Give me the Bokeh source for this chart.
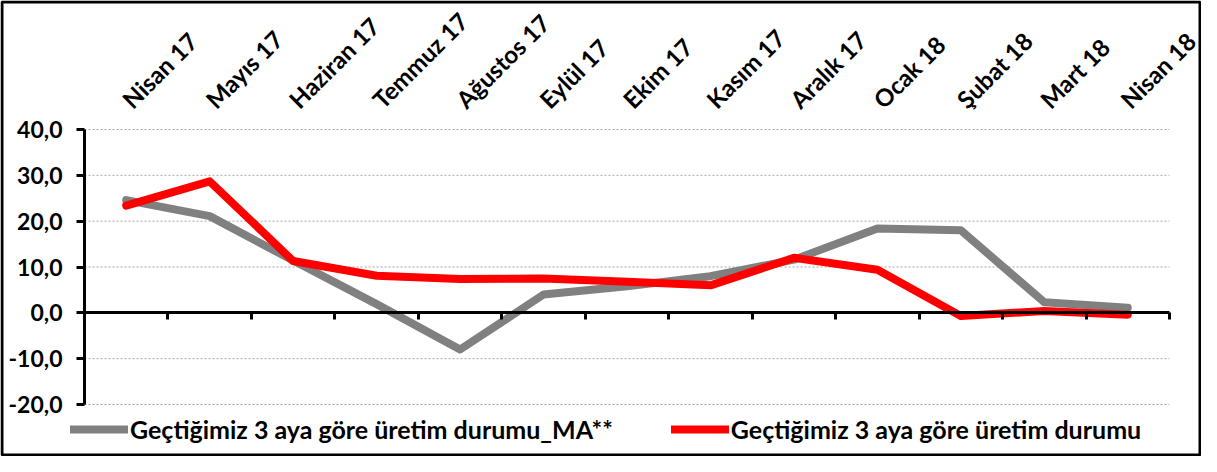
import math
from bokeh.plotting import figure
from bokeh.models import (LinearAxis, FixedTicker, Range1d, Legend, LegendItem,
                          ColumnDataSource, BoxAnnotation)
from bokeh.embed import file_html
from bokeh.resources import INLINE

months = ["Nisan 17", "Mayıs 17", "Haziran 17", "Temmuz 17", "Ağustos 17", "Eylül 17",
          "Ekim 17", "Kasım 17", "Aralık 17", "Ocak 18", "Şubat 18", "Mart 18", "Nisan 18"]
ma_series = [24.6, 21.1, 11.4, 1.9, -8.0, 4.0, 5.8, 8.0, 11.6, 18.4, 18.0, 2.3, 1.1]
cur_series = [23.4, 28.7, 11.3, 8.1, 7.4, 7.5, 6.8, 6.0, 12.0, 9.4, -0.7, 0.4, -0.4]
y_ticks = [-20, -10, 0, 10, 20, 30, 40]
y_tick_labels = ["-20,0", "-10,0", "0,0", "10,0", "20,0", "30,0", "40,0"]
ma_name = "Geçtiğimiz 3 aya göre üretim durumu_MA**"
cur_name = "Geçtiğimiz 3 aya göre üretim durumu"

FONT = "Lato"
W, H = 1201, 456
n = len(months)
xs = [i + 0.5 for i in range(n)]
y_min, y_max = y_ticks[0], y_ticks[-1]

# layout in canvas pixels: plot area edges
PL, PR, PT, PB = 84, 1169, 129, 404
xscale = (PR - PL) / n
yscale = (PB - PT) / (y_max - y_min)
x_range = Range1d(0 - PL / xscale, n + (W - PR) / xscale)
y_range = Range1d(y_min - (H - PB) / yscale, y_max + PT / yscale)

p = figure(width=W, height=H, output_backend="svg", toolbar_location=None,
           x_range=x_range, y_range=y_range, x_axis_type=None, y_axis_type=None,
           min_border=0, min_border_left=0, min_border_right=0,
           min_border_top=0, min_border_bottom=0)
p.outline_line_color = None
p.background_fill_color = "white"
p.border_fill_color = "white"
p.grid.visible = False

# frame around the whole chart
p.add_layout(BoxAnnotation(left=1.5, right=W - 1.5, top=1.5, bottom=H - 1.5,
                           left_units="canvas", right_units="canvas",
                           top_units="canvas", bottom_units="canvas",
                           fill_alpha=0, line_color="black", line_alpha=1.0,
                           line_width=3, level="overlay"))

# dotted gridlines over the plot area
grid_y = [t for t in y_ticks if t != 0]
p.segment(x0=[0] * len(grid_y), x1=[n] * len(grid_y), y0=grid_y, y1=grid_y,
          line_color="#a6a6a6", line_dash="2 2", line_width=1, level="underlay")

src = ColumnDataSource(dict(x=xs, ma=ma_series, cur=cur_series))
r_ma = p.line("x", "ma", source=src, line_color="#808080", line_width=8,
              line_cap="round", line_join="round")
r_cur = p.line("x", "cur", source=src, line_color="#ff0000", line_width=8,
               line_cap="round", line_join="round")

# top category labels axis
top = LinearAxis(fixed_location=y_max, ticker=FixedTicker(ticks=xs),
                 major_label_overrides={x: m for x, m in zip(xs, months)},
                 major_label_orientation=math.pi / 4,
                 axis_line_color=None, major_tick_line_color=None,
                 minor_tick_line_color=None,
                 major_label_text_font=FONT, major_label_text_font_style="bold",
                 major_label_text_font_size="24px", major_label_text_color="black",
                 major_label_standoff=20)
p.add_layout(top, "above")

# axis through zero
zero_axis = LinearAxis(fixed_location=0, bounds=(0, n),
                       ticker=FixedTicker(ticks=list(range(n + 1))),
                       axis_line_width=3, axis_line_color="black",
                       major_tick_line_width=3, major_tick_line_color="black",
                       major_tick_out=7, major_tick_in=0,
                       minor_tick_line_color=None,
                       major_label_text_font_size="0px",
                       major_label_text_alpha=0)
p.add_layout(zero_axis, "below")

# y axis
ya = LinearAxis(fixed_location=0, bounds=(y_min, y_max),
                ticker=FixedTicker(ticks=y_ticks),
                major_label_overrides={t: l for t, l in zip(y_ticks, y_tick_labels)},
                axis_line_width=3, axis_line_color="black",
                major_tick_line_width=3, major_tick_line_color="black",
                major_tick_out=8, major_tick_in=0, minor_tick_line_color=None,
                major_label_text_font=FONT, major_label_text_font_style="bold",
                major_label_text_font_size="23px", major_label_text_color="black",
                major_label_standoff=14)
p.add_layout(ya, "left")

legend = Legend(items=[LegendItem(label=ma_name, renderers=[r_ma]),
                       LegendItem(label=cur_name, renderers=[r_cur])],
                orientation="horizontal", location=(70, 12),
                glyph_width=58, glyph_height=22, label_height=22,
                label_standoff=2, spacing=58, padding=0, margin=0,
                border_line_color=None, background_fill_alpha=0,
                label_text_font=FONT, label_text_font_style="bold",
                label_text_font_size="25px", label_text_color="black")
p.add_layout(legend, "center")

open("out.html", "w").write(file_html(p, INLINE))
